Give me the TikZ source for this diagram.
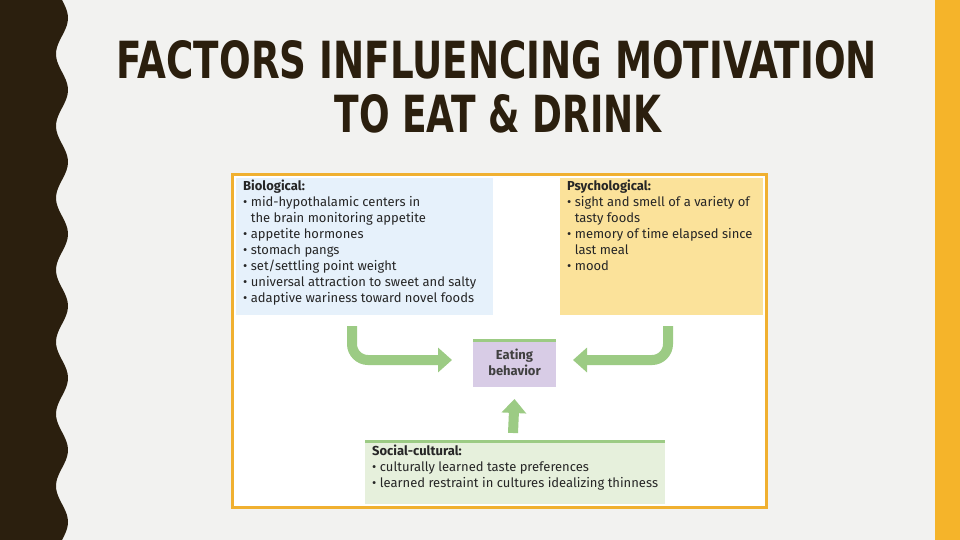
\documentclass[tikz,border=0pt]{standalone}
\usepackage{fontspec}
\setmainfont{Fira Sans}
\newfontfamily\titlefont{DejaVu Sans Condensed}
\definecolor{bg}{HTML}{F2F2F0}
\definecolor{brn}{HTML}{2B1F0E}
\definecolor{gold}{HTML}{F5B42A}
\definecolor{frame}{HTML}{F0B030}
\definecolor{bio}{HTML}{E6F1FB}
\definecolor{psy}{HTML}{FBE29A}
\definecolor{eat}{HTML}{D8CCE6}
\definecolor{soc}{HTML}{E6F0DC}
\definecolor{grn}{HTML}{9CCB84}
\tikzset{txt/.style={anchor=north west,align=left,inner sep=0pt,font=\fontsize{13}{16}\selectfont,text=black!85},
 garrow/.style={draw=grn,line width=10pt,rounded corners=16pt,-{Triangle[length=14pt,width=24pt]}}}
\usetikzlibrary{arrows.meta}
\newcommand{\ind}{\hphantom{\textbullet\ }}
\begin{document}
\begin{tikzpicture}[x=1pt,y=-1pt]
\useasboundingbox (0,0) rectangle (960,540);
\fill[bg] (0,0) rectangle (960,540);
\fill[gold] (935,0) rectangle (960,540);
\fill[brn] (0,0) -- plot[domain=0:540,samples=150,smooth] ({62+6*sin(\x*5)},\x) -- (0,540) -- cycle;
\node[font=\titlefont\bfseries,text=brn,inner sep=0] (t1) at (497,60) {\resizebox{760pt}{38pt}{FACTORS INFLUENCING MOTIVATION}};
\node[font=\titlefont\bfseries,text=brn,inner sep=0] (t2) at (498,114) {\resizebox{327pt}{38pt}{TO EAT \& DRINK}};
\draw[frame,line width=3pt,fill=white] (232,175) rectangle (766,507);
\fill[bio] (236,178) rectangle (493,315);
\fill[psy] (560,178) rectangle (763,315);
\fill[eat] (473,340) rectangle (556,387);
\draw[grn,line width=3pt] (473,340) -- (556,340);
\fill[soc] (365,441) rectangle (665,504);
\draw[grn,line width=3pt] (365,441) -- (665,441);
\node[txt] (bt) at (243,180) {\textbf{Biological:}\\
\textbullet\ mid-hypothalamic centers in\\
\ind the brain monitoring appetite\\
\textbullet\ appetite hormones\\
\textbullet\ stomach pangs\\
\textbullet\ set/settling point weight\\
\textbullet\ universal attraction to sweet and salty\\
\textbullet\ adaptive wariness toward novel foods};
\node[txt] (pt) at (567,180) {\textbf{Psychological:}\\
\textbullet\ sight and smell of a variety of\\
\ind tasty foods\\
\textbullet\ memory of time elapsed since\\
\ind last meal\\
\textbullet\ mood};
\node[font=\fontsize{13}{16}\selectfont\bfseries,text=black!75,align=center] (eb) at (514.5,362) {Eating\\behavior};
\node[txt] (st) at (372,445) {\textbf{Social-cultural:}\\
\textbullet\ culturally learned taste preferences\\
\textbullet\ learned restraint in cultures idealizing thinness};
\coordinate (a1) at (352,326);
\coordinate (a2) at (668,326);
\coordinate (a3) at (513,433);
\draw[garrow] (a1) -- (352,360) -- (452,360);
\draw[garrow] (a2) -- (668,360) -- (573,360);
\draw[garrow] (a3) -- (eb.south |- 0,399);
\end{tikzpicture}
\end{document}
